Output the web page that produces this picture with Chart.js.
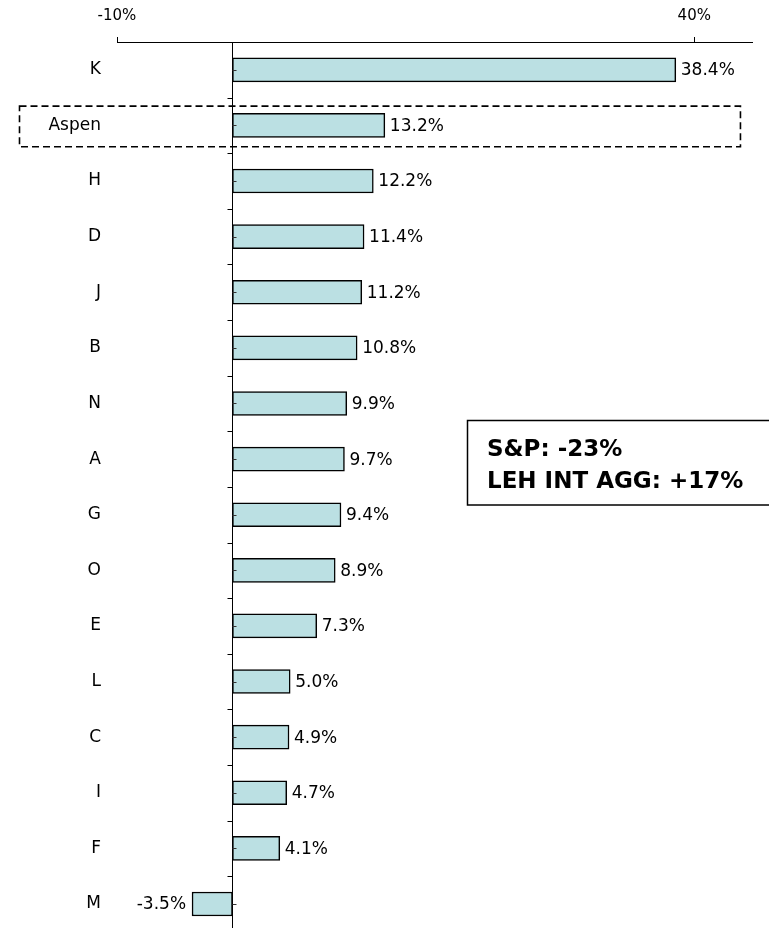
<!DOCTYPE html>
<html>
<head>
<meta charset="utf-8">
<script src="https://cdn.jsdelivr.net/npm/chart.js@4"></script>
<style>
html,body{margin:0;padding:0;background:#fff;overflow:hidden;}
canvas{display:block;}
</style>
</head>
<body>
<canvas id="c" width="769" height="950" style="width:769px;height:950px"></canvas>
<script>
const categories = ['K','Aspen','H','D','J','B','N','A','G','O','E','L','C','I','F','M'];
const values = [38.4, 13.2, 12.2, 11.4, 11.2, 10.8, 9.9, 9.7, 9.4, 8.9, 7.3, 5.0, 4.9, 4.7, 4.1, -3.5];
const xTickValues = [-10, 40];
const xMin = -10;
const xMax = 45;
const highlightCategory = 'Aspen';
const noteLines = ['S&P: -23%', 'LEH INT AGG: +17%'];

const FONT = '"DejaVu Sans", "Liberation Sans", Arial, sans-serif';

const overlay = {
  id: 'overlay',
  afterDatasetsDraw(chart) {
    const {ctx, chartArea: ca, scales: {x, y}} = chart;
    const x0 = Math.round(x.getPixelForValue(0)) + 0.5;
    const n = categories.length;
    const step = (ca.bottom - ca.top) / n;
    ctx.save();
    ctx.strokeStyle = '#000';
    ctx.lineWidth = 1;
    ctx.beginPath();
    ctx.moveTo(x0, ca.top);
    ctx.lineTo(x0, ca.bottom);
    ctx.stroke();
    ctx.beginPath();
    for (let i = 0; i <= n; i++) {
      const yy = Math.round(y.getPixelForValue(i) - step / 2) + 0.5;
      ctx.moveTo(x0 - 5, yy);
      ctx.lineTo(x0, yy);
    }
    ctx.stroke();
    ctx.strokeStyle = '#333';
    ctx.beginPath();
    for (let i = 0; i < n; i++) {
      const yy = Math.round(y.getPixelForValue(i)) + 0.5;
      ctx.moveTo(x0, yy);
      ctx.lineTo(x0 + 4, yy);
    }
    ctx.stroke();

    const meta = chart.getDatasetMeta(0);
    ctx.fillStyle = '#000';
    ctx.font = '17px ' + FONT;
    ctx.textBaseline = 'middle';
    meta.data.forEach((bar, i) => {
      const v = values[i];
      const txt = v.toFixed(1) + '%';
      if (v >= 0) {
        ctx.textAlign = 'left';
        ctx.fillText(txt, bar.x + 5, bar.y + 1);
      } else {
        ctx.textAlign = 'right';
        ctx.fillText(txt, bar.x - 6, bar.y + 1);
      }
    });

    const hi = categories.indexOf(highlightCategory);
    if (hi >= 0) {
      const cy = y.getPixelForValue(hi) + 1;
      ctx.strokeStyle = '#000';
      ctx.lineWidth = 1.6;
      ctx.setLineDash([7, 4]);
      ctx.strokeRect(19.5, cy - 20.3, x.getPixelForValue(44) - 19.5, 40.6);
      ctx.setLineDash([]);
    }

    ctx.fillStyle = '#fff';
    ctx.fillRect(467.5, 420.5, 320, 84.5);
    ctx.strokeStyle = '#000';
    ctx.lineWidth = 1.5;
    ctx.strokeRect(467.5, 420.5, 320, 84.5);
    ctx.fillStyle = '#000';
    ctx.font = 'bold 23px ' + FONT;
    ctx.textAlign = 'left';
    ctx.textBaseline = 'alphabetic';
    ctx.fillText(noteLines[0], 487, 456);
    ctx.fillText(noteLines[1], 487, 488);
    ctx.restore();
  }
};

new Chart(document.getElementById('c'), {
  type: 'bar',
  data: {
    labels: categories,
    datasets: [{
      data: values,
      backgroundColor: '#BBE0E3',
      borderColor: '#000',
      borderWidth: 1.5,
      borderSkipped: false,
      barThickness: 24
    }]
  },
  plugins: [overlay],
  options: {
    indexAxis: 'y',
    responsive: false,
    animation: false,
    devicePixelRatio: 1,
    layout: {padding: {top: 0, right: 17, bottom: 8, left: 0}},
    plugins: {legend: {display: false}, tooltip: {enabled: false}},
    scales: {
      x: {
        position: 'top',
        min: xMin,
        max: xMax,
        afterBuildTicks(scale) { scale.ticks = xTickValues.map(v => ({value: v})); },
        afterFit(scale) { scale.height = 42; },
        grid: {drawOnChartArea: false, drawTicks: true, tickLength: 5, color: '#000', lineWidth: 1},
        border: {display: true, color: '#000', width: 1},
        ticks: {
          color: '#000',
          font: {family: FONT, size: 15},
          padding: 12,
          maxRotation: 0,
          callback: v => v + '%'
        }
      },
      y: {
        position: 'left',
        afterFit(scale) { scale.width = 117; },
        grid: {display: false},
        border: {display: false},
        ticks: {
          color: '#000',
          font: {family: FONT, size: 17},
          padding: 8,
          autoSkip: false
        }
      }
    }
  }
});
</script>
</body>
</html>
